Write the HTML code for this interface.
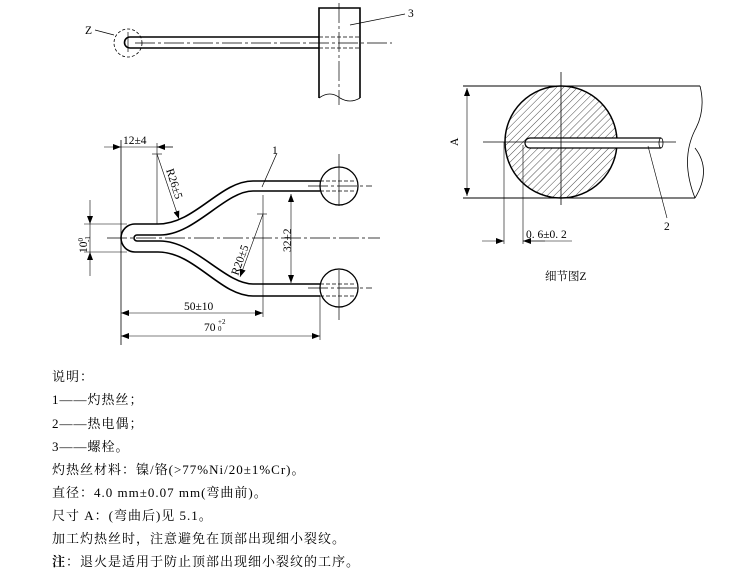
<!DOCTYPE html>
<html><head><meta charset="utf-8"><style>
html,body{margin:0;padding:0;background:#fff;}
svg{display:block;}
text{font-family:"Liberation Serif","Noto Serif CJK SC",serif;fill:#000;}
</style></head><body>
<svg width="736" height="577" viewBox="0 0 736 577" xmlns="http://www.w3.org/2000/svg">
<defs>
<pattern id="h" width="5" height="5" patternUnits="userSpaceOnUse" patternTransform="rotate(45)"><line x1="0" y1="0" x2="0" y2="5" stroke="#000" stroke-width="0.7"/></pattern>
<marker id="a" markerWidth="8" markerHeight="6" refX="8" refY="3" orient="auto-start-reverse" markerUnits="userSpaceOnUse"><path d="M0,0 L8,3 L0,6 Z" fill="#000"/></marker>
</defs>
<g fill="none" stroke="#000" stroke-width="1">
<path d="M319,37 L130,37 A5.5,5.5 0 0 0 130,48 L319,48" stroke-width="1.6"/>
<line x1="135" y1="43" x2="392" y2="43" stroke-width="0.7" stroke-dasharray="20,3,3,3"/>
<circle cx="128" cy="43" r="14" stroke-dasharray="3,2" stroke-width="0.8"/>
<line x1="95" y1="30" x2="114" y2="35" stroke-width="0.7"/>
<line x1="128" y1="32" x2="128" y2="52" stroke-width="0.7"/>
<path d="M319,98 L319,8 L360,8 L360,98" stroke-width="1.6"/>
<path d="M319,98 Q330,90 340,98 Q350,104 360,98" stroke-width="0.8"/>
<line x1="339" y1="3" x2="339" y2="105" stroke-width="0.7" stroke-dasharray="20,3,3,3"/>
<line x1="319" y1="37" x2="360" y2="37" stroke-dasharray="4,2" stroke-width="0.7"/>
<line x1="319" y1="48" x2="360" y2="48" stroke-dasharray="4,2" stroke-width="0.7"/>
<line x1="350" y1="25" x2="405" y2="14" stroke-width="0.7"/>

<path d="M320,181 L253,181 C220,181 195,224 158,224 L135,224 A14,14 0 0 0 135,252 L158,252 C195,252 220,296 253,296 L320,296" stroke-width="1.6"/>
<path d="M320,191 L253,191 C225,191 195,235 160,235 L137,235 A3,3 0 0 0 137,241 L160,241 C195,241 225,284 253,284 L320,284" stroke-width="1.6"/>
<line x1="107" y1="238" x2="380" y2="238" stroke-width="0.7" stroke-dasharray="20,3,3,3"/>
<circle cx="339" cy="186" r="19" stroke-width="1.3"/>
<circle cx="339" cy="288" r="19" stroke-width="1.3"/>
<line x1="339" y1="154" x2="339" y2="206" stroke-width="0.7"/>
<line x1="339" y1="270" x2="339" y2="320" stroke-width="0.7"/>
<line x1="308" y1="186" x2="372" y2="186" stroke-width="0.7" stroke-dasharray="20,3,3,3"/>
<line x1="308" y1="288" x2="372" y2="288" stroke-width="0.7" stroke-dasharray="20,3,3,3"/>
<line x1="320" y1="181" x2="356" y2="181" stroke-dasharray="4,2" stroke-width="0.7"/>
<line x1="320" y1="191" x2="356" y2="191" stroke-dasharray="4,2" stroke-width="0.7"/>
<line x1="320" y1="284" x2="356" y2="284" stroke-dasharray="4,2" stroke-width="0.7"/>
<line x1="320" y1="296" x2="356" y2="296" stroke-dasharray="4,2" stroke-width="0.7"/>
<line x1="121" y1="140" x2="121" y2="345" stroke-width="0.8"/>
<line x1="157" y1="143" x2="157" y2="224" stroke-width="0.6"/>
<line x1="104" y1="147" x2="121" y2="147" marker-end="url(#a)" stroke-width="0.6"/>
<line x1="121" y1="147" x2="173" y2="147" stroke-width="0.6"/>
<line x1="173" y1="147" x2="157" y2="147" marker-end="url(#a)" stroke-width="0.6"/>
<line x1="152" y1="154" x2="162" y2="154" stroke-width="0.6"/>
<line x1="157" y1="154" x2="179" y2="219" marker-end="url(#a)" stroke-width="0.6"/>
<line x1="263" y1="195" x2="263" y2="317" stroke-width="0.6"/>
<line x1="257" y1="214" x2="267" y2="214" stroke-width="0.6"/>
<line x1="263" y1="214" x2="240" y2="277" marker-end="url(#a)" stroke-width="0.6"/>
<line x1="320" y1="296" x2="320" y2="340" stroke-width="0.6"/>
<line x1="291" y1="194" x2="291" y2="283" marker-start="url(#a)" marker-end="url(#a)" stroke-width="0.6"/>
<line x1="121" y1="313" x2="263" y2="313" marker-start="url(#a)" marker-end="url(#a)" stroke-width="0.6"/>
<line x1="121" y1="336" x2="320" y2="336" marker-start="url(#a)" marker-end="url(#a)" stroke-width="0.6"/>
<line x1="84" y1="224" x2="127" y2="224" stroke-width="0.6"/>
<line x1="84" y1="252" x2="127" y2="252" stroke-width="0.6"/>
<line x1="90" y1="200" x2="90" y2="224" marker-end="url(#a)" stroke-width="0.6"/>
<line x1="90" y1="276" x2="90" y2="252" marker-end="url(#a)" stroke-width="0.6"/>
<line x1="90" y1="224" x2="90" y2="252" stroke-width="0.6"/>
<line x1="262" y1="187" x2="277" y2="153" stroke-width="0.7"/>

<line x1="463" y1="86" x2="700" y2="86" stroke-width="1"/>
<line x1="463" y1="198" x2="695" y2="198" stroke-width="1"/>
<path d="M700,86 Q706,110 695,130 Q680,160 695,198" stroke-width="0.8"/>
<path d="M695,148 Q712,170 695,198" stroke-width="0.8"/>
<circle cx="561" cy="142" r="56" fill="url(#h)" stroke-width="1.5"/>
<path d="M661,138 L530,138 A5,5 0 0 0 530,148 L661,148" fill="#fff" stroke-width="1.2"/>
<ellipse cx="661" cy="143" rx="2" ry="5" stroke-width="0.8"/>
<line x1="483" y1="142" x2="676" y2="142" stroke-width="0.7"/>
<line x1="561" y1="72" x2="561" y2="205" stroke-width="0.8"/>
<line x1="467" y1="88" x2="467" y2="196" marker-start="url(#a)" marker-end="url(#a)" stroke-width="0.6"/>
<line x1="504" y1="142" x2="504" y2="244" stroke-width="0.6"/>
<line x1="523" y1="145" x2="523" y2="244" stroke-width="0.6"/>
<line x1="482" y1="241" x2="504" y2="241" marker-end="url(#a)" stroke-width="0.6"/>
<line x1="545" y1="241" x2="523" y2="241" marker-end="url(#a)" stroke-width="0.6"/>
<line x1="523" y1="241" x2="572" y2="241" stroke-width="0.6"/>
<line x1="648" y1="146" x2="667" y2="218" stroke-width="0.6"/>
</g>
<g font-size="11.5">
<text x="85" y="34">Z</text>
<text x="408" y="17">3</text>
<text x="123" y="144">12±4</text>
<text x="272" y="154">1</text>
<text x="184" y="310">50±10</text>
<text x="204" y="331">70</text><text x="218" y="324" font-size="7">+2</text><text x="218" y="331" font-size="7">0</text>
<text transform="translate(166,170) rotate(72)">R26±5</text>
<text transform="translate(238,276) rotate(-70)">R20±5</text>
<text transform="translate(291,252) rotate(-90)">32±2</text>
<text transform="translate(87,253) rotate(-90)">10<tspan font-size="7" dy="-4">0</tspan><tspan font-size="7" dx="-4" dy="7">-1</tspan></text>
<text transform="translate(458,146) rotate(-90)">A</text>
<text x="526" y="238">0. 6±0. 2</text>
<text x="664" y="230">2</text>
<text x="545" y="280">细节图Z</text>
</g>
<g font-size="13" letter-spacing="1">
<text x="52" y="381">说明：</text>
<text x="52" y="404">1——灼热丝；</text>
<text x="52" y="428">2——热电偶；</text>
<text x="52" y="451">3——螺栓。</text>
<text x="52" y="474">灼热丝材料：镍/铬(&gt;77%Ni/20±1%Cr)。</text>
<text x="52" y="497">直径：4.0 mm±0.07 mm(弯曲前)。</text>
<text x="52" y="520">尺寸 A：(弯曲后)见 5.1。</text>
<text x="52" y="543">加工灼热丝时，注意避免在顶部出现细小裂纹。</text>
<text x="52" y="566"><tspan font-weight="bold">注</tspan>：退火是适用于防止顶部出现细小裂纹的工序。</text>
</g>
</svg>
</body></html>
